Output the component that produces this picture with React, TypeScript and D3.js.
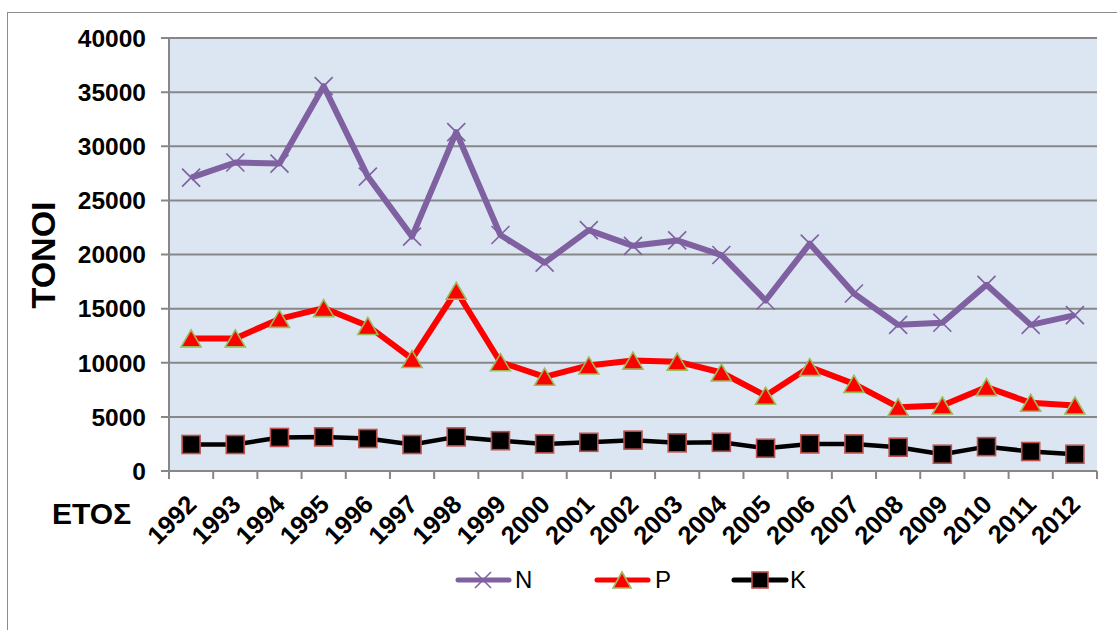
import React from "react";
import * as d3 from "d3";

const years = ["1992","1993","1994","1995","1996","1997","1998","1999","2000","2001","2002","2003","2004","2005","2006","2007","2008","2009","2010","2011","2012"];
const nValues = [27100,28500,28400,35550,27200,21650,31300,21800,19250,22250,20800,21300,19950,15750,21000,16400,13500,13700,17200,13500,14400];
const pValues = [12250,12250,14050,15050,13400,10350,16650,10050,8700,9750,10200,10100,9100,6950,9600,8050,5900,6050,7750,6300,6050];
const kValues = [2450,2450,3100,3150,3000,2450,3150,2800,2500,2650,2850,2600,2650,2100,2500,2500,2200,1550,2250,1800,1550];
const yTicks = [0,5000,10000,15000,20000,25000,30000,35000,40000];

const W = 1117, H = 630;
const plot = { left: 169, right: 1097, top: 38, bottom: 471 };
const purple = "#7F60A0";
const red = "#FF0000";
const olive = "#9BBB59";
const brick = "#C0504D";
const grid = "#878787";
const font = "'Liberation Sans', Arial, sans-serif";

export default function App() {
  const x = d3.scaleBand<string>().domain(years).range([plot.left, plot.right]).padding(0);
  const y = d3.scaleLinear().domain([0, 40000]).range([plot.bottom, plot.top]);
  const cx = (yr: string) => (x(yr) as number) + x.bandwidth() / 2;
  const line = d3.line<number>().x((_, i) => cx(years[i])).y((v) => y(v));

  const xMark = (px: number, py: number, key: string, s = 9) => (
    <g key={key} stroke={purple} strokeWidth={1.6}>
      <line x1={px - s} y1={py - s} x2={px + s} y2={py + s} />
      <line x1={px - s} y1={py + s} x2={px + s} y2={py - s} />
    </g>
  );
  const triMark = (px: number, py: number, key: string, w = 20, h = 17) => (
    <path key={key} d={`M${px},${py - h / 2} L${px + w / 2},${py + h / 2} L${px - w / 2},${py + h / 2} Z`}
      fill={red} stroke={olive} strokeWidth={1.6} strokeLinejoin="miter" />
  );
  const sqMark = (px: number, py: number, key: string, s = 18) => (
    <rect key={key} x={px - s / 2} y={py - s / 2} width={s} height={s} fill="#000" stroke={brick} strokeWidth={1.6} />
  );

  const tickXs = years.map((yr) => x(yr) as number).concat([plot.right]);

  return (
    <svg width={W} height={H} style={{ position: "fixed", left: 0, top: 0, background: "#fff" }}>
      <rect x={7.5} y={12.5} width={1115} height={640} fill="#fff" stroke="#8c8c8c" strokeWidth={1} />
      <rect x={plot.left} y={plot.top} width={plot.right - plot.left} height={plot.bottom - plot.top} fill="#DCE6F2" />
      {yTicks.map((t) => (
        <g key={t}>
          <line x1={plot.left - 8} x2={plot.right} y1={y(t)} y2={y(t)} stroke={grid} strokeWidth={2} />
          <text x={146} y={y(t)} dy="0.36em" textAnchor="end" fontFamily={font} fontWeight="bold" fontSize={24.5} fill="#000">{t}</text>
        </g>
      ))}
      <line x1={plot.left} x2={plot.left} y1={plot.top} y2={plot.bottom} stroke={grid} strokeWidth={2} />
      <line x1={plot.left} x2={plot.right} y1={plot.bottom} y2={plot.bottom} stroke={grid} strokeWidth={2} />
      {tickXs.map((tx, i) => (
        <line key={i} x1={tx} x2={tx} y1={plot.bottom} y2={plot.bottom + 8} stroke={grid} strokeWidth={2} />
      ))}
      {years.map((yr) => (
        <text key={yr} transform={`translate(${cx(yr) + 7},${plot.bottom + 35}) rotate(-45)`} textAnchor="end"
          fontFamily={font} fontWeight="bold" fontSize={25.5} fill="#000">{yr}</text>
      ))}
      <text transform={`translate(55,255) rotate(-90)`} textAnchor="middle" fontFamily={font} fontWeight="bold" fontSize={34} fill="#000">ΤΟΝΟΙ</text>
      <text x={52} y={524} fontFamily={font} fontWeight="bold" fontSize={30} fill="#000">ΕΤΟΣ</text>

      <path d={line(kValues) || ""} fill="none" stroke="#000" strokeWidth={4.5} strokeLinejoin="round" />
      <path d={line(pValues) || ""} fill="none" stroke={red} strokeWidth={6} strokeLinejoin="round" />
      <path d={line(nValues) || ""} fill="none" stroke={purple} strokeWidth={6} strokeLinejoin="round" />
      {kValues.map((v, i) => sqMark(cx(years[i]), y(v), "k" + i))}
      {pValues.map((v, i) => triMark(cx(years[i]), y(v), "p" + i))}
      {nValues.map((v, i) => xMark(cx(years[i]), y(v), "n" + i))}

      <g>
        <line x1={458} x2={509} y1={580} y2={580} stroke={purple} strokeWidth={5} strokeLinecap="round" />
        {xMark(483, 580, "ln", 8)}
        <text x={515} y={588} fontFamily={font} fontSize={24} fill="#000">N</text>
        <line x1={597} x2={648} y1={580} y2={580} stroke={red} strokeWidth={5} strokeLinecap="round" />
        {triMark(622, 580, "lp", 18, 16)}
        <text x={655} y={588} fontFamily={font} fontSize={24} fill="#000">P</text>
        <line x1={734} x2={786} y1={580} y2={580} stroke="#000" strokeWidth={5} strokeLinecap="round" />
        {sqMark(760, 580, "lk", 16)}
        <text x={790} y={588} fontFamily={font} fontSize={24} fill="#000">K</text>
      </g>
    </svg>
  );
}
